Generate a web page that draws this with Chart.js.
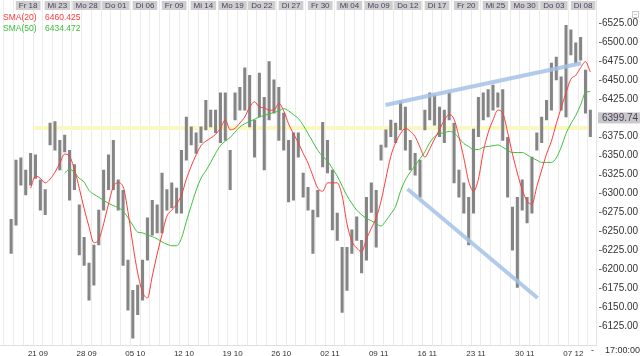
<!DOCTYPE html>
<html>
<head>
<meta charset="utf-8">
<script src="https://cdn.jsdelivr.net/npm/chart.js@4.4.1/dist/chart.umd.min.js"></script>
<style>
  html, body { margin: 0; padding: 0; background: #fff; }
  #wrap { position: relative; width: 640px; height: 356px; }
</style>
</head>
<body>
<div id="wrap"><canvas id="chart" width="640" height="356"></canvas></div>
<script>
// Price ranges per half trading day (16.09 - 08.12)
const barLow = [
  6221, 6258, 6311, 6298, 6311, 6320, 6278, 6272, 6364, 6357,
  6331, 6355, 6291, 6305, 6219, 6205, 6159, 6179, 6232, 6278,
  6305, 6305, 6278, 6205, 6146, 6109, 6140, 6159, 6212, 6245,
  6248, 6248, 6278, 6281, 6274, 6274, 6344, 6364, 6353, 6367,
  6384, 6388, 6380, 6367, 6370, 6305, 6397, 6410, 6410, 6388,
  6348, 6401, 6331, 6397, 6406, 6370, 6357, 6289, 6291, 6348,
  6295, 6278, 6221, 6269, 6335, 6327, 6252, 6238, 6143, 6172,
  6221, 6238, 6195, 6212, 6275, 6229, 6344, 6361, 6375, 6367,
  6384, 6357, 6331, 6324, 6295, 6384, 6397, 6390, 6375, 6367,
  6397, 6314, 6295, 6274, 6232, 6274, 6375, 6397, 6401, 6410,
  6414, 6370, 6295, 6225, 6176, 6278, 6261, 6274, 6357, 6367,
  6397, 6410, 6450, 6410, 6401, 6483, 6472, 6476, 6406, 6375
];
const barHigh = [
  6266, 6344, 6347, 6331, 6353, 6351, 6318, 6305, 6393, 6395,
  6370, 6377, 6357, 6338, 6285, 6242, 6208, 6232, 6278, 6331,
  6351, 6370, 6318, 6304, 6212, 6172, 6179, 6212, 6268, 6291,
  6285, 6327, 6305, 6314, 6307, 6357, 6401, 6388, 6380, 6388,
  6423, 6410, 6410, 6433, 6433, 6357, 6433, 6440, 6466, 6456,
  6397, 6459, 6427, 6474, 6450, 6440, 6406, 6370, 6380, 6380,
  6327, 6308, 6278, 6304, 6394, 6370, 6331, 6274, 6229, 6229,
  6252, 6269, 6238, 6295, 6314, 6304, 6364, 6384, 6397, 6393,
  6421, 6414, 6370, 6353, 6344, 6410, 6433, 6430, 6414, 6410,
  6433, 6393, 6331, 6314, 6295, 6385, 6427, 6433, 6437, 6443,
  6433, 6437, 6374, 6282, 6295, 6318, 6295, 6348, 6380, 6401,
  6423, 6472, 6480, 6454, 6522, 6516, 6499, 6506, 6463, 6410
];

// Moving averages at the same half-day slots
const sma20 = [
  null, null, null, null,
  6307, 6323, 6320, 6314, 6319, 6328, 6340, 6352, 6349, 6332,
  6307, 6280, 6256, 6235, 6239, 6260, 6286, 6309, 6314, 6309,
  6276, 6233, 6195, 6170, 6162, 6191, 6220, 6246, 6270, 6278,
  6286, 6298, 6319, 6336, 6351, 6363, 6369, 6373, 6378, 6386,
  6397, 6384, 6386, 6393, 6401, 6414, 6421, 6414, 6413, 6410,
  6410, 6419, 6409, 6392, 6379, 6367, 6353, 6340, 6323, 6307,
  6303, 6314, 6314, 6314, 6297, 6260, 6237, 6228, 6223, 6240,
  6254, 6268, 6290, 6320, 6349, 6367, 6379, 6386, 6382, 6375,
  6361, 6348, 6359, 6372, 6384, 6397, 6404, 6398, 6375, 6347,
  6316, 6303, 6319, 6355, 6380, 6397, 6410, 6406, 6381, 6352,
  6327, 6305, 6290, 6286, 6309, 6331, 6352, 6369, 6392, 6413,
  6433, 6451, 6456, 6466, 6474, 6460.4
];
const sma50 = [
  null, null, null, null, null, null, null, null, null, null, null,
  6327, 6332, 6328, 6320, 6315, 6304, 6299, 6295, 6291,
  6287, 6284, 6281, 6277, 6268, 6258, 6249, 6248, 6245, 6243,
  6240, 6236, 6233, 6231, 6231, 6241, 6263, 6284, 6304, 6320,
  6330, 6341, 6353, 6363, 6369, 6374, 6381, 6388, 6392, 6395,
  6398, 6401, 6403, 6405, 6407, 6409, 6412, 6409, 6404, 6399,
  6390, 6379, 6368, 6357, 6349, 6343, 6333, 6323, 6310, 6297,
  6287, 6278, 6272, 6267, 6264, 6260, 6257, 6264, 6273, 6283,
  6303, 6318, 6328, 6337, 6346, 6355, 6367, 6375, 6379, 6380,
  6382, 6380, 6373, 6366, 6362, 6358, 6358, 6361, 6362, 6363,
  6364, 6361, 6357, 6354, 6354, 6354, 6351, 6347, 6344, 6341,
  6341, 6341, 6347, 6361, 6379, 6392, 6403, 6417, 6433, 6434.5
];

// Axis texts
const topLabels = ['Fr 18', 'Mi 23', 'Mo 28', 'Do 01', 'Di 06', 'Fr 09', 'Mi 14', 'Mo 19', 'Do 22', 'Di 27',
                   'Fr 30', 'Mi 04', 'Mo 09', 'Do 12', 'Di 17', 'Fr 20', 'Mi 25', 'Mo 30', 'Do 03', 'Di 08'];
const weekLabels = ['21 09', '28 09', '05 10', '12 10', '19 10', '26 10', '02 11', '09 11', '16 11', '23 11', '30 11', '07 12'];
const yTicks = [6125, 6150, 6175, 6200, 6225, 6250, 6275, 6300, 6325, 6350, 6375, 6425, 6450, 6475, 6500, 6525];

// Marks drawn on top of the prices
const lastPrice = 6399.74;
const markLevel = 6386.5;
const upperTrend = [[38.71, 6416.7], [58.81, 6472]];
const lowerTrend = [[40.96, 6306], [54.33, 6162]];
const smaLegend = [
  { name: 'SMA(20)', value: '6460.425', color: '#ff3b3b' },
  { name: 'SMA(50)', value: '6434.472', color: '#3cc03c' }
];

const dayCount = 60;
const xMin = -0.384, xMax = 59.82;

function slotX(k) { return 0.25 + k * 0.5; }
function toPoints(arr) {
  const pts = [];
  arr.forEach(function(v, k) { if (v !== null) pts.push({ x: slotX(k), y: v }); });
  return pts;
}
function dayLabel(d) {
  if (d >= 3 && (d - 3) % 5 === 0) return weekLabels[(d - 3) / 5] || '';
  return '';
}

const extrasPlugin = {
  id: 'extras',
  afterDraw: function(chart) {
    const c = chart.ctx;
    const xs = chart.scales.x, ys = chart.scales.y;
    c.save();

    // day labels in grey boxes along the top
    c.font = '8px Arial';
    c.textAlign = 'center';
    c.textBaseline = 'middle';
    topLabels.forEach(function(t, j) {
      const px = xs.getPixelForValue(2 + 3 * j);
      const w = c.measureText(t).width + 6;
      c.fillStyle = '#cecece';
      c.fillRect(px - w / 2, 1, w, 9);
      c.fillStyle = '#4b3c5e';
      c.fillText(t, px, 5.5);
    });

    // legend
    c.textAlign = 'left';
    c.font = '8.5px Arial';
    smaLegend.forEach(function(row, i) {
      c.fillStyle = row.color;
      c.fillText(row.name, 3, 17.5 + 11 * i);
      c.fillText(row.value, 45, 17.5 + 11 * i);
    });

    // small dashes in front of the price labels
    c.strokeStyle = '#666';
    c.lineWidth = 1;
    yTicks.forEach(function(v) {
      const py = Math.round(ys.getPixelForValue(v)) + 0.5;
      c.beginPath(); c.moveTo(599, py); c.lineTo(601.5, py); c.stroke();
    });

    // last price box
    const pp = ys.getPixelForValue(lastPrice);
    c.fillStyle = '#c8c8c8';
    c.fillRect(598, pp - 5.5, 42, 11);
    c.fillStyle = '#4b3c5e';
    c.font = '10px Arial';
    c.fillText(lastPrice.toFixed(2), 602, pp + 0.5);

    // time stamp bottom right
    c.fillStyle = '#333';
    c.font = '9px Arial';
    c.fillText('-', 591, 351);
    c.fillText('17:00:00', 605, 351);

    // tiny icon top right
    c.strokeStyle = '#c8c8c8';
    c.strokeRect(632.5, 11.5, 6, 6);
    c.beginPath(); c.moveTo(634, 14.5); c.lineTo(637, 14.5); c.stroke();

    c.restore();
  }
};

new Chart(document.getElementById('chart'), {
  type: 'bar',
  data: {
    datasets: [
      {
        type: 'line',
        data: [{ x: 2.55, y: markLevel }, { x: xMax, y: markLevel }],
        borderColor: '#faf7c2',
        borderWidth: 4,
        pointRadius: 0,
        order: 6
      },
      {
        type: 'bar',
        data: barLow.map(function(lo, k) { return { x: slotX(k), y: [lo, barHigh[k]] }; }),
        backgroundColor: '#858585',
        borderWidth: 0,
        barThickness: 2.4,
        order: 5
      },
      {
        type: 'line',
        data: upperTrend.map(function(p) { return { x: p[0], y: p[1] }; }),
        borderColor: 'rgba(164,194,232,0.85)',
        borderWidth: 4,
        pointRadius: 0,
        order: 4
      },
      {
        type: 'line',
        data: lowerTrend.map(function(p) { return { x: p[0], y: p[1] }; }),
        borderColor: 'rgba(164,194,232,0.85)',
        borderWidth: 4,
        pointRadius: 0,
        order: 4
      },
      {
        type: 'line',
        data: toPoints(sma50),
        borderColor: '#3cc03c',
        borderWidth: 1,
        pointRadius: 0,
        cubicInterpolationMode: 'monotone',
        order: 2
      },
      {
        type: 'line',
        data: toPoints(sma20),
        borderColor: '#ff3b3b',
        borderWidth: 1,
        pointRadius: 0,
        cubicInterpolationMode: 'monotone',
        order: 1
      }
    ]
  },
  options: {
    responsive: false,
    devicePixelRatio: 1,
    animation: false,
    layout: { padding: 0 },
    plugins: { legend: { display: false }, tooltip: { enabled: false } },
    scales: {
      x: {
        type: 'linear',
        position: 'bottom',
        min: xMin,
        max: xMax,
        grid: { color: '#ececec', drawTicks: false },
        border: { color: '#dedede' },
        ticks: {
          autoSkip: false,
          maxRotation: 0,
          padding: 3,
          font: { family: 'Arial', size: 8 },
          color: '#333',
          callback: function(v) { return dayLabel(v); }
        },
        afterBuildTicks: function(s) {
          const t = [];
          for (let d = 0; d < dayCount; d++) t.push({ value: d });
          s.ticks = t;
        },
        afterFit: function(s) { s.height = 10.5; s.paddingLeft = 0; s.paddingRight = 0; }
      },
      y: {
        type: 'linear',
        position: 'right',
        min: 6099.3,
        max: 6555.4,
        grid: { display: false, drawTicks: false },
        border: { display: true, color: '#e4e4e4' },
        ticks: {
          padding: 6,
          font: { family: 'Arial', size: 10 },
          color: '#333',
          callback: function(v) { return v.toFixed(2); }
        },
        afterBuildTicks: function(s) { s.ticks = yTicks.map(function(v) { return { value: v }; }); },
        afterFit: function(s) { s.width = 44; s.paddingTop = 0; s.paddingBottom = 0; }
      }
    }
  },
  plugins: [extrasPlugin]
});
</script>
</body>
</html>
